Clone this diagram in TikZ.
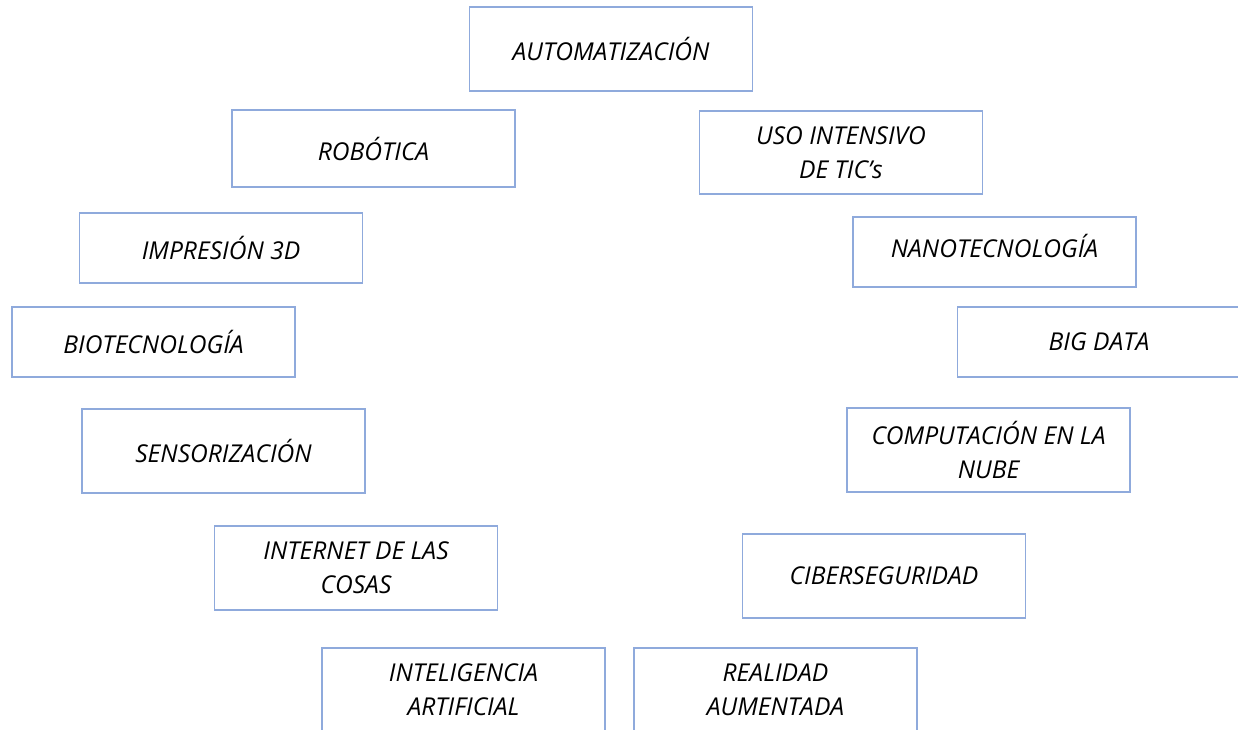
\documentclass[tikz,border=0pt]{standalone}
\usepackage{fontspec}
\setmainfont{Open Sans}
\definecolor{boxblue}{RGB}{143,170,220}
\tikzset{
  box/.style={draw=boxblue, line width=1.2pt, minimum width=283pt, inner sep=2pt,
    align=center, font=\fontsize{24.6}{34}\selectfont\itshape, text=black}
}
\begin{document}
\begin{tikzpicture}[x=1pt,y=-1pt]
\useasboundingbox (0,0) rectangle (1238,729);
\clip (0,0) rectangle (1238,729);
\node[box, minimum height=84pt] (auto) at (611,49) {AUTOMATIZACIÓN};
\node[box, minimum height=77pt] (robo) at (373.5,148.5) {ROBÓTICA};
\node[box, minimum height=83pt] (tics) at (841,152.5) {USO INTENSIVO\\DE TIC’s};
\node[box, minimum height=70pt] (impr) at (221,248) {IMPRESIÓN 3D};
\node[box, minimum height=70pt] (nano) at (994.5,252) {\raisebox{12pt}{NANOTECNOLOGÍA}};
\node[box, minimum height=70pt] (bio) at (153.5,342) {BIOTECNOLOGÍA};
\node[box, minimum height=70pt] (big) at (1099,342) {BIG DATA};
\node[box, minimum height=84pt] (sens) at (223.5,451) {SENSORIZACIÓN};
\node[box, minimum height=84pt] (nube) at (988.5,450) {COMPUTACIÓN EN LA\\NUBE};
\node[box, minimum height=84pt] (iot) at (356,568) {INTERNET DE LAS\\COSAS};
\node[box, minimum height=84pt] (ciber) at (884,576) {CIBERSEGURIDAD};
\node[box, minimum height=84pt] (ia) at (463.5,690) {INTELIGENCIA\\ARTIFICIAL};
\node[box, minimum height=84pt] (ra) at (775.5,690) {REALIDAD\\AUMENTADA};
\end{tikzpicture}
\end{document}
